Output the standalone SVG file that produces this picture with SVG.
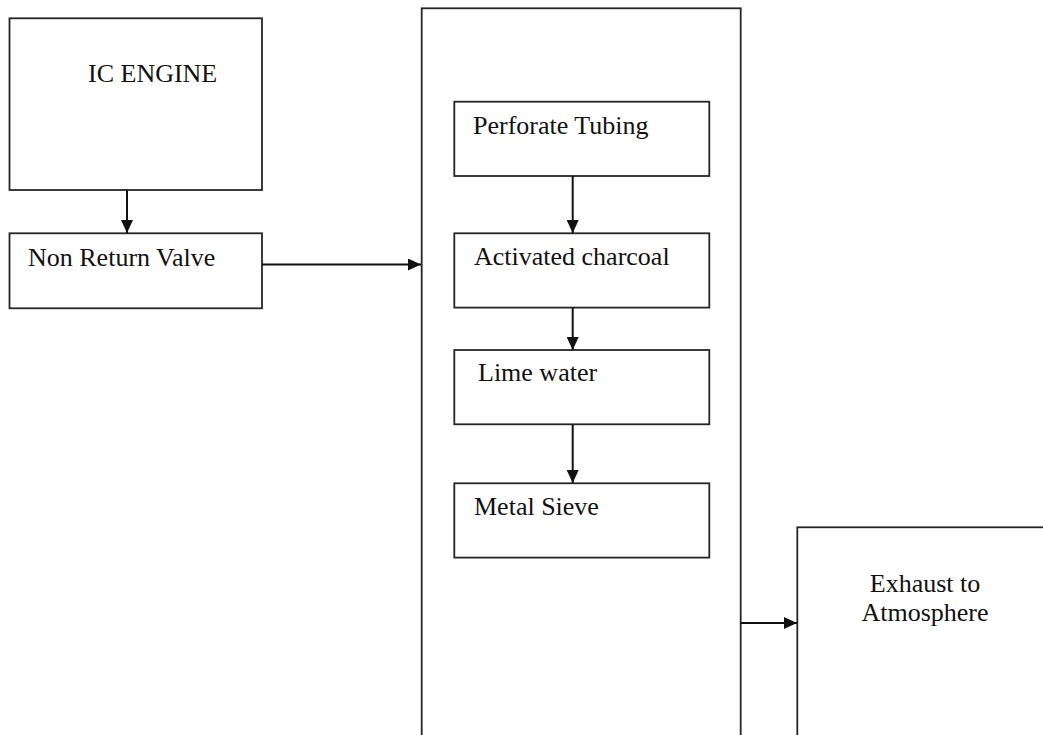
<svg xmlns="http://www.w3.org/2000/svg" width="1043" height="735" viewBox="0 0 1043 735">
<style>
.box{fill:#fff;stroke:#262626;stroke-width:1.8}
.t{font-family:"Liberation Serif","Times New Roman",serif;font-size:26px;fill:#111}
.c{stroke:#111;stroke-width:2;fill:none;marker-end:url(#ah)}
</style>
<defs>
<marker id="ah" markerWidth="13" markerHeight="12" refX="13" refY="6" orient="auto" markerUnits="userSpaceOnUse">
<path d="M0,0 L13,6 L0,12 Z" fill="#111"/>
</marker>
</defs>
<rect width="1043" height="735" fill="#fff"/>
<g id="filter-housing"><rect class="box" x="421.7" y="8.3" width="319" height="740"/></g>
<g id="ic-engine"><rect class="box" x="9.5" y="18.3" width="252.5" height="171.7"/><text class="t" x="88" y="82">IC ENGINE</text></g>
<g id="non-return-valve"><rect class="box" x="9.5" y="233.3" width="252.5" height="75"/><text class="t" x="28" y="266">Non Return Valve</text></g>
<g id="perforate-tubing"><rect class="box" x="454.3" y="101.7" width="255" height="74.3"/><text class="t" x="473" y="134">Perforate Tubing</text></g>
<g id="activated-charcoal"><rect class="box" x="454.3" y="233.3" width="255" height="74.3"/><text class="t" x="474" y="265">Activated charcoal</text></g>
<g id="lime-water"><rect class="box" x="454.3" y="350" width="255" height="74.3"/><text class="t" x="478" y="381">Lime water</text></g>
<g id="metal-sieve"><rect class="box" x="454.3" y="483.3" width="255" height="74.3"/><text class="t" x="474" y="515">Metal Sieve</text></g>
<g id="exhaust"><rect class="box" x="797.3" y="527.3" width="260" height="220"/><text class="t" x="925" y="592" text-anchor="middle">Exhaust to</text><text class="t" x="925" y="621" text-anchor="middle">Atmosphere</text></g>
<g id="connectors">
<line class="c" x1="127" y1="190" x2="127" y2="233"/>
<line class="c" x1="262" y1="264.5" x2="421" y2="264.5"/>
<line class="c" x1="572.7" y1="176" x2="572.7" y2="233"/>
<line class="c" x1="572.7" y1="307.6" x2="572.7" y2="350"/>
<line class="c" x1="572.7" y1="424.3" x2="572.7" y2="483"/>
<line class="c" x1="740.7" y1="623" x2="797" y2="623"/>
</g>
</svg>
